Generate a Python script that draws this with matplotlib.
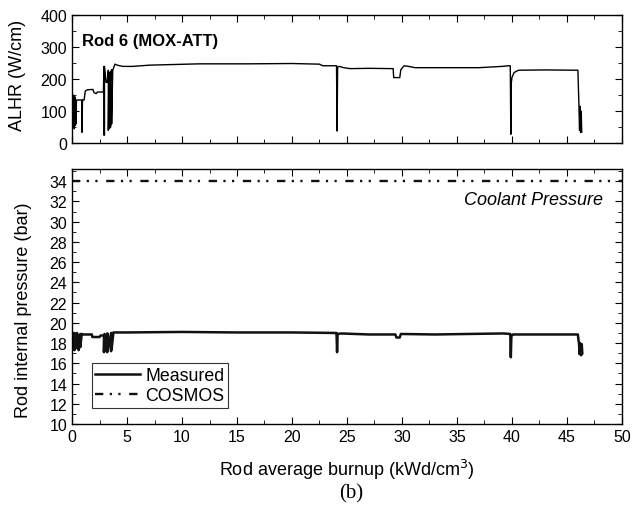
import matplotlib
matplotlib.use("Agg")
import matplotlib.pyplot as plt
from matplotlib.ticker import MultipleLocator

plt.rcParams['font.family'] = ['Liberation Sans', 'DejaVu Sans']
plt.rcParams['lines.scale_dashes'] = False

# ALHR history (W/cm) vs rod average burnup
alhr_x = [0.0, 0.05, 0.05, 0.1, 0.1, 0.15, 0.15, 0.2, 0.2, 0.25, 0.25, 0.3, 0.3, 0.35, 0.35, 0.4,
          0.45, 0.85, 0.9, 0.9, 0.95, 1.1, 1.2, 1.4, 1.9, 2.0, 2.2, 2.3, 2.85, 2.9, 2.9, 2.95,
          2.95, 3.1, 3.2, 3.3, 3.3, 3.35, 3.4, 3.4, 3.5, 3.5, 3.6, 3.6, 3.7, 3.9, 4.1, 4.6,
          5.5, 7.1, 11.6, 16, 20, 22.5, 22.8, 23.7, 24.05, 24.1, 24.15, 24.3, 24.7, 25.3,
          27, 29.2, 29.25, 29.8, 29.9, 30.2, 30.6, 31.2, 34, 37, 39.1, 39.7, 39.85, 39.9,
          39.95, 40.0, 40.2, 40.6, 43, 46.0, 46.1, 46.15, 46.2, 46.25, 46.3, 46.35]
alhr_y = [145, 145, 55, 140, 50, 150, 60, 135, 45, 145, 70, 140, 55, 130, 60, 135,
          135, 135, 135, 34, 135, 135, 163, 167, 168, 158, 155, 160, 160, 240, 25, 25,
          240, 190, 190, 228, 40, 220, 220, 45, 225, 50, 230, 60, 228, 247, 244, 240,
          240, 244, 248, 248, 249, 247, 242, 242, 242, 38, 238, 240, 236, 233,
          234, 233, 205, 205, 230, 242, 240, 236, 236, 236, 240, 242, 242, 28,
          190, 205, 221, 228, 229, 228, 111, 40, 115, 33, 100, 35]

# Rod internal pressure (bar)
meas_x = [0.0, 0.08, 0.08, 0.15, 0.15, 0.22, 0.22, 0.3, 0.3, 0.45, 0.45, 0.6, 0.6, 0.75,
          0.75, 0.88, 1.0, 1.8, 1.85, 2.5, 2.6, 2.9, 2.9, 2.95, 2.95, 3.2, 3.2, 3.25, 3.25,
          3.55, 3.55, 3.6, 3.6, 3.76, 5, 10, 15, 20, 23.9, 24.05, 24.1, 24.15, 24.5, 27,
          29.4, 29.5, 29.8, 29.9, 33, 36, 39.2, 39.85, 39.9, 39.95, 40.1, 43, 46.0, 46.05,
          46.1, 46.15, 46.2, 46.3, 46.35, 46.4]
meas_y = [19.0, 19.0, 17.4, 18.9, 17.6, 19.0, 17.3, 18.9, 17.8, 19.0, 17.5, 18.8, 17.3, 18.9,
          17.6, 18.9, 18.85, 18.85, 18.6, 18.6, 18.75, 18.75, 17.1, 18.9, 17.2, 18.95, 17.1,
          18.9, 17.3, 18.95, 17.2, 19.0, 17.4, 19.05, 19.05, 19.1, 19.05, 19.05, 19.0,
          19.0, 17.1, 18.9, 18.95, 18.85, 18.85, 18.55, 18.55, 18.9, 18.85, 18.9, 18.95,
          18.9, 16.6, 18.7, 18.85, 18.85, 18.85, 18.3, 18.0, 16.9, 18.0, 16.8, 17.9, 17.0]

cosmos_x = [0.0, 50.0]
cosmos_y = [34.0, 34.0]

fig = plt.figure(figsize=(6.32, 5.06), dpi=100)
ax1 = fig.add_axes([0.114, 0.715, 0.870, 0.253])
ax2 = fig.add_axes([0.114, 0.160, 0.870, 0.504])

ax1.plot(alhr_x, alhr_y, color='black', lw=1.0)
ax1.set_xlim(0, 50)
ax1.set_ylim(0, 400)
ax1.xaxis.set_major_locator(MultipleLocator(5))
ax1.xaxis.set_minor_locator(MultipleLocator(2.5))
ax1.yaxis.set_major_locator(MultipleLocator(100))
ax1.yaxis.set_minor_locator(MultipleLocator(50))
ax1.set_xticklabels([])
ax1.set_ylabel('ALHR (W/cm)', fontsize=13)
ax1.yaxis.set_label_coords(-0.084, 0.54)
ax1.text(0.018, 0.80, 'Rod 6 (MOX-ATT)', transform=ax1.transAxes, fontsize=12,
         fontweight='bold', va='center', ha='left')

ax2.plot(meas_x, meas_y, color='#111111', lw=1.8, label='Measured')
ax2.plot(cosmos_x, cosmos_y, color='#111111', lw=1.7, dashes=(6.0, 4.6, 1.6, 4.6, 1.6, 6.2),
         label='COSMOS')
ax2.set_xlim(0, 50)
ax2.set_ylim(10, 35.2)
ax2.xaxis.set_major_locator(MultipleLocator(5))
ax2.xaxis.set_minor_locator(MultipleLocator(2.5))
ax2.yaxis.set_major_locator(MultipleLocator(2))
ax2.yaxis.set_minor_locator(MultipleLocator(1))
ax2.set_ylabel('Rod internal pressure (bar)', fontsize=13)
ax2.yaxis.set_label_coords(-0.073, 0.45)
ax2.set_xlabel('Rod average burnup (kWd/cm$^3$)', fontsize=13, labelpad=9)
ax2.text(0.965, 0.882, 'Coolant Pressure', transform=ax2.transAxes, fontsize=13,
         style='italic', ha='right', va='center')

leg = ax2.legend(loc='lower left', bbox_to_anchor=(0.036, 0.063), fontsize=12.8,
                 frameon=True, fancybox=False, handlelength=2.5, handletextpad=0.3,
                 borderpad=0.2, labelspacing=0.2, borderaxespad=0)
leg.get_frame().set_edgecolor('black')
leg.get_frame().set_linewidth(0.8)

for ax in (ax1, ax2):
    ax.tick_params(which='both', direction='in', top=True, right=True, labelsize=11.5)
    ax.tick_params(which='major', length=5)
    ax.tick_params(which='minor', length=3)
    for s in ax.spines.values():
        s.set_linewidth(1.0)

fig.text(0.555, 0.024, '(b)', fontsize=15, family='Liberation Serif', ha='center', va='center')

fig.savefig('out.png', dpi=100)
